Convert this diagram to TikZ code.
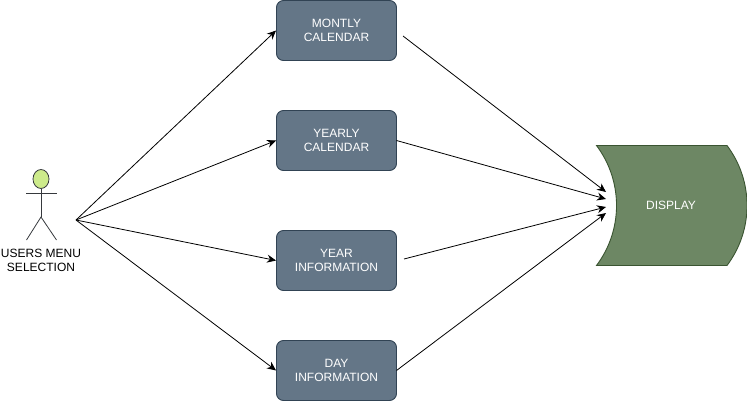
\documentclass[tikz,border=0pt]{standalone}
\usepackage{fontspec}
\setmainfont{Liberation Sans}
\usetikzlibrary{arrows.meta,shapes.geometric}
\definecolor{boxfill}{HTML}{647687}
\definecolor{boxline}{HTML}{314354}
\definecolor{dispfill}{HTML}{6D8764}
\definecolor{displine}{HTML}{3A5431}
\definecolor{headfill}{HTML}{CDEB8B}
\definecolor{headline}{HTML}{36393D}
\tikzset{
  menubox/.style={draw=boxline,fill=boxfill,line width=0.9pt,rounded corners=7pt,minimum width=120pt,
    minimum height=60pt,text=white,font=\fontsize{12}{14.5}\selectfont,align=center,inner sep=0pt},
  conn/.style={-{Stealth[length=9pt,width=8pt]},line width=0.8pt},
  stick/.style={draw=headline,line width=0.8pt}
}
\begin{document}
\begin{tikzpicture}[x=1pt,y=-1pt]
    \useasboundingbox (0,0) rectangle (747,401);
    \node[menubox] (monthly) at(336.5,30.5) {MONTLY\\CALENDAR};
    \node[menubox] (yearly) at(336.5,140.5) {YEARLY\\CALENDAR};
    \node[menubox] (year) at(336.5,260.5) {YEAR\\INFORMATION};
    \node[menubox] (day) at(336.5,370.5) {DAY\\INFORMATION};
    % the display shape: both sides are arcs of radius 100
    \draw[draw=displine,fill=dispfill,line width=0.9pt] (596.5,145.5)--(727,145.5)
      .. controls (753.7,181) and (753.7,230) .. (727,265.5)--(596.5,265.5)
      .. controls (623.2,230) and (623.2,181) .. (596.5,145.5)--cycle;
    \node[text=white,font=\fontsize{12}{14.5}\selectfont] (display) at(671,205.5) {DISPLAY};
    % the actor
    \node[stick,fill=headfill,ellipse,minimum width=16pt,minimum height=19pt,inner sep=0pt] (head) at(41,179) {};
    \coordinate (hip) at(41,217);
    \draw[stick] (head.south)--(hip);
    \draw[stick] (26,193.5)--(57,193.5);
    \draw[stick] (26.5,240)--(hip)--(56.5,240);
    \node[font=\fontsize{12}{14.5}\selectfont,align=center,inner sep=0pt] (users) at(41,260.5) {USERS MENU\\SELECTION};
    % free ends of the connectors
    \coordinate (menu) at(76,220);
    \coordinate (monthlyout) at(403,36);
    \coordinate (yearlyout) at(396.5,140.5);
    \coordinate (yearout) at(404,259);
    \coordinate (dayout) at(396.5,370.5);
    \coordinate (dispa) at(606,192);
    \coordinate (dispb) at(606,199);
    \coordinate (dispc) at(606,207);
    \coordinate (dispd) at(606,213);
    \draw[conn] (menu)--(monthly.west);
    \draw[conn] (menu)--(yearly.west);
    \draw[conn] (menu)--(year.west);
    \draw[conn] (menu)--(day.west);
    \draw[conn] (monthlyout)--(dispa);
    \draw[conn] (yearlyout)--(dispb);
    \draw[conn] (yearout)--(dispc);
    \draw[conn] (dayout)--(dispd);
  \end{tikzpicture}
\end{document}
